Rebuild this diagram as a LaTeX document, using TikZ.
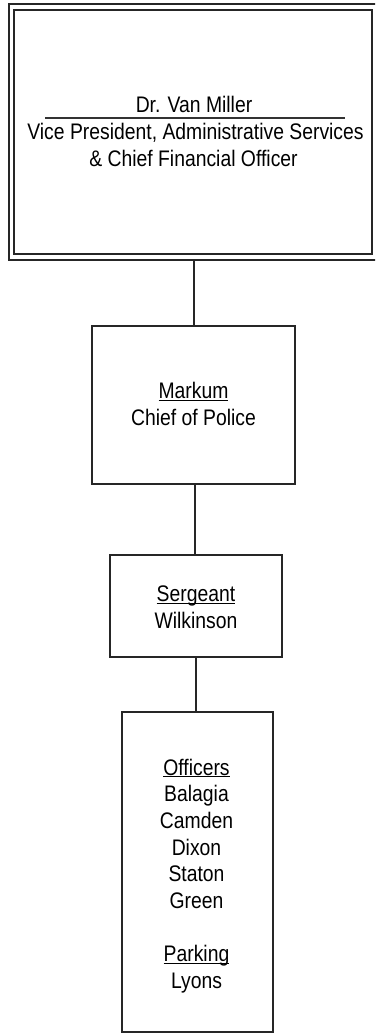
\documentclass[tikz,border=0pt]{standalone}
\usepackage{fontspec}
\setmainfont[FakeStretch=0.86]{Liberation Sans}
\newcommand\myul[1]{\setbox0\hbox{#1}\rlap{\rule[-2.4pt]{\wd0}{1pt}}\box0}
\begin{document}
\begin{tikzpicture}[x=1pt,y=-1pt,
  box/.style={draw=black!85,line width=1.6pt,inner sep=0pt,fill=none},
  conn/.style={draw=black!85,line width=1.6pt},
  rulel/.style={draw=black!80,line width=1.1pt},
  txt/.style={anchor=base,inner sep=0pt,font=\fontsize{22.5}{26.5}\selectfont}]
\useasboundingbox (0,0) rectangle (375,1035);
\clip (0,0) rectangle (375,1035);
% top double box
\node[box,minimum width=371pt,minimum height=256pt] (vpo) at (194.5,132) {};
\node[box,minimum width=358pt,minimum height=244pt] (vp) at (193,132) {};
\node[txt] (vpname) at (194,113) {Dr. Van Miller};
\draw[rulel] (45,118) -- (345,118);
\node[txt] (vptitle1) at (195.5,140) {Vice President, Administrative Services};
\node[txt] (vptitle2) at (193.5,167) {\& Chief Financial Officer};
% chief
\node[box,minimum width=203pt,minimum height=158pt] (chief) at (193.5,405) {};
\node[txt] (chiefn) at (193.5,398.3) {\myul{Markum}};
\node[txt] (chieft) at (193.5,425) {Chief of Police};
% sergeant
\node[box,minimum width=172pt,minimum height=102pt] (sgt) at (196,606) {};
\node[txt] (sgtt) at (196,601.7) {\myul{Sergeant}};
\node[txt] (sgtn) at (196,628.3) {Wilkinson};
% officers
\node[box,minimum width=151pt,minimum height=320pt] (off) at (197.5,872) {};
\node[txt] (o0) at (196.5,775) {\myul{Officers}};
\node[txt] (o1) at (196.5,801.7) {Balagia};
\node[txt] (o2) at (196.5,828.3) {Camden};
\node[txt] (o3) at (196.5,855) {Dixon};
\node[txt] (o4) at (196.5,881.7) {Staton};
\node[txt] (o5) at (196.5,908.3) {Green};
\node[txt] (o6) at (196.5,961.7) {\myul{Parking}};
\node[txt] (o7) at (196.5,988.3) {Lyons};
% connectors
\draw[conn] (vpo.south -| 194,0) -- (chief.north -| 194,0);
\draw[conn] (chief.south -| 195,0) -- (sgt.north -| 195,0);
\draw[conn] (sgt.south) -- (off.north -| sgt.south);
\end{tikzpicture}
\end{document}
